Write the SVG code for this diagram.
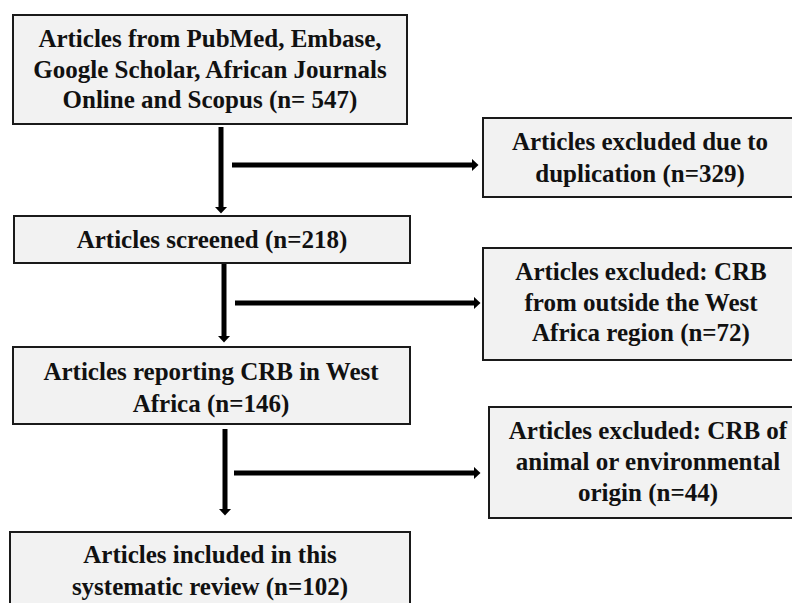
<svg xmlns="http://www.w3.org/2000/svg" width="792" height="603" viewBox="0 0 792 603">
<style>
.box{fill:#f2f2f2;stroke:#1a1a1a;stroke-width:2}
.t{font-family:"Liberation Serif","Times New Roman",serif;font-weight:bold;font-size:25px;fill:#111;text-anchor:middle}
.c{stroke:#000;stroke-width:5;fill:none}
</style>
<defs>
<marker id="ah" markerUnits="userSpaceOnUse" viewBox="0 0 7 13" refX="0.5" refY="6.5" markerWidth="7" markerHeight="13" orient="auto">
<path d="M0,0 L7,6.5 L0,13 z" fill="#000"/>
</marker>
</defs>
<rect width="792" height="603" fill="#fff"/>
<g id="connectors">
<line class="c" x1="221" y1="127" x2="221" y2="207" marker-end="url(#ah)"/>
<line class="c" x1="232" y1="165" x2="472" y2="165" marker-end="url(#ah)"/>
<line class="c" x1="224" y1="264" x2="224" y2="336" marker-end="url(#ah)"/>
<line class="c" x1="235" y1="303" x2="474" y2="303" marker-end="url(#ah)"/>
<line class="c" x1="225" y1="429" x2="225" y2="509" marker-end="url(#ah)"/>
<line class="c" x1="234" y1="473" x2="474" y2="473" marker-end="url(#ah)"/>
</g>
<g id="n1">
<rect class="box" x="13" y="15" width="394" height="109"/>
<text class="t" x="210" y="47">Articles from PubMed, Embase,</text>
<text class="t" x="210" y="78">Google Scholar, African Journals</text>
<text class="t" x="210" y="108">Online and Scopus (n= 547)</text>
</g>
<g id="n2">
<rect class="box" x="483" y="118" width="320" height="79"/>
<text class="t" x="640" y="150">Articles excluded due to</text>
<text class="t" x="640" y="182">duplication (n=329)</text>
</g>
<g id="n3">
<rect class="box" x="14" y="216" width="396" height="47"/>
<text class="t" x="212" y="248">Articles screened (n=218)</text>
</g>
<g id="n4">
<rect class="box" x="483" y="248" width="320" height="112"/>
<text class="t" x="641" y="280">Articles excluded: CRB</text>
<text class="t" x="641" y="311">from outside the West</text>
<text class="t" x="641" y="341">Africa region (n=72)</text>
</g>
<g id="n5">
<rect class="box" x="13" y="347" width="397" height="77"/>
<text class="t" x="211" y="380">Articles reporting CRB in West</text>
<text class="t" x="211" y="412">Africa (n=146)</text>
</g>
<g id="n6">
<rect class="box" x="489" y="407" width="320" height="111"/>
<text class="t" x="648" y="439">Articles excluded: CRB of</text>
<text class="t" x="648" y="470">animal or environmental</text>
<text class="t" x="648" y="501">origin (n=44)</text>
</g>
<g id="n7">
<rect class="box" x="10" y="532" width="400" height="90"/>
<text class="t" x="210" y="563">Articles included in this</text>
<text class="t" x="210" y="595">systematic review (n=102)</text>
</g>
</svg>
